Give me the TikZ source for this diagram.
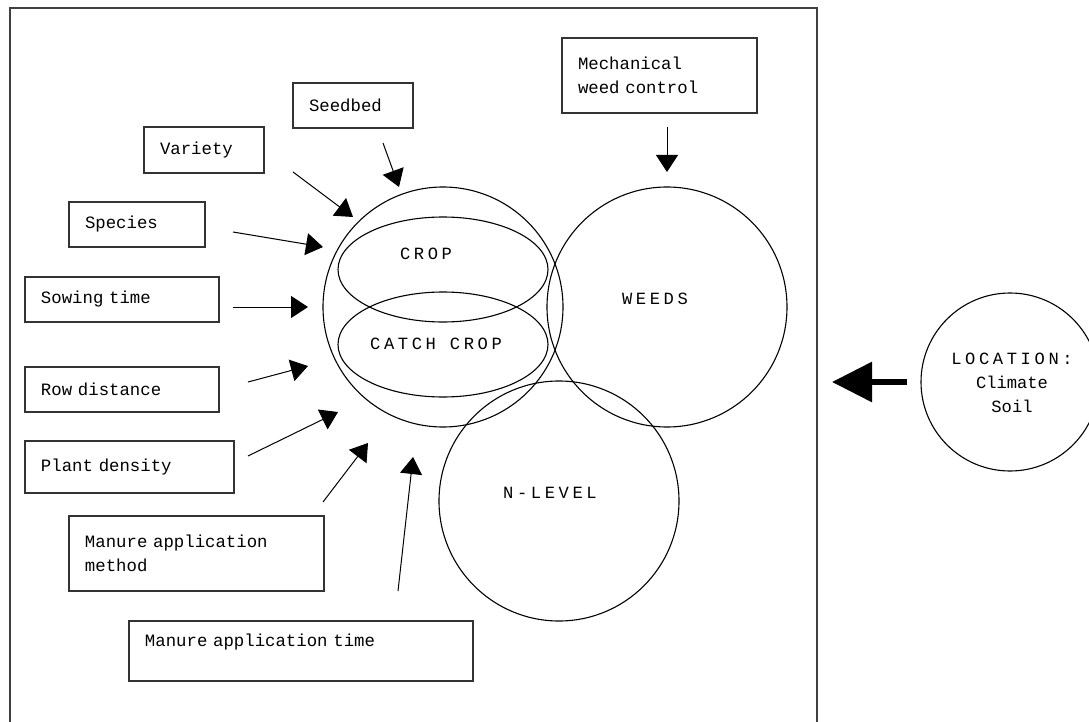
\documentclass[tikz,border=0pt]{standalone}
\usepackage{fontspec}
\setmainfont{Liberation Mono}
\newfontfamily\capsfont[LetterSpace=21]{Liberation Mono}
\usetikzlibrary{arrows.meta}
\begin{document}
\begin{tikzpicture}[x=1bp,y=-1bp,
  box/.style={draw=black!80, line width=1.1bp, rectangle, inner xsep=16bp, inner ysep=0pt, align=left, font=\fontsize{17.4}{24}\selectfont},
  ring/.style={draw=black, line width=1.1bp},
  thinarrow/.style={-{Triangle[length=17bp,width=22bp]}, line width=1bp},
  biglbl/.style={font=\capsfont\fontsize{17.2}{24}\selectfont, inner sep=0pt},
  smalllbl/.style={font=\fontsize{17.2}{24}\selectfont, inner sep=0pt, align=center},
]
\useasboundingbox (0,0) rectangle (1089,722);
% frame
\draw[line width=1.6bp, black!75] (10,722) -- (10,8) -- (817,8) -- (817,722);

% boxes
\node[box, text width=88bp,  minimum height=45bp] (seedbed) at (353,105.5) {Seedbed};
\node[box, text width=88bp,  minimum height=46bp] (variety) at (204,150) {Variety};
\node[box, text width=104bp, minimum height=45bp] (species) at (137,224.5) {Species};
\node[box, text width=162bp, minimum height=45bp] (sowing) at (122,299.5) {Sowing time};
\node[box, text width=162bp, minimum height=45bp] (row) at (122,389.5) {Row distance};
\node[box, text width=177bp, minimum height=52bp] (plant) at (129.5,467) {Plant density};
\node[box, text width=223bp, minimum height=75bp] (mmethod) at (196.5,553.5) {Manure application\\method};
\node[box, text width=312bp, minimum height=60bp] (mtime) at (301,651) {Manure application time\\[-2pt]\mbox{}};
\node[box, text width=163bp, minimum height=75bp] (mech) at (659.5,75.5) {Mechanical\\weed control};

% circles and ellipses
\draw[ring] (443,307) circle[radius=120];
\draw[ring] (443,269.5) ellipse[x radius=105, y radius=52.5];
\draw[ring] (443,344.5) ellipse[x radius=105, y radius=52.5];
\draw[ring] (667,307) circle[radius=120];
\draw[ring] (559,501) circle[radius=120];
\draw[ring] (1010,382) circle[radius=89];

% labels
\node[biglbl] (crop) at (426,254) {CROP};
\node[biglbl] (catch) at (436,344) {CATCH CROP};
\node[biglbl] (weeds) at (655,299) {WEEDS};
\node[biglbl] (nlevel) at (550,493) {N-LEVEL};
\node[smalllbl] (loc) at (1012,383) {{\capsfont LOCATION:}\\Climate\\Soil};

% arrow end points
\coordinate (a1s) at (383,143);  \coordinate (a1e) at (399,187);
\coordinate (a2s) at (293,172);  \coordinate (a2e) at (353,217);
\coordinate (a3s) at (233,232);  \coordinate (a3e) at (323,247);
\coordinate (a4s) at (233,307);  \coordinate (a4e) at (308,307);
\coordinate (a5s) at (248,382);  \coordinate (a5e) at (308,366);
\coordinate (a6s) at (248,456);  \coordinate (a6e) at (338,412);
\coordinate (a7s) at (323,502);  \coordinate (a7e) at (368,443);
\coordinate (a8s) at (398,591);  \coordinate (a8e) at (413,457);
\coordinate (a9s) at (667,127);  \coordinate (a9e) at (667,172);
\coordinate (bls) at (907,382);  \coordinate (ble) at (832,382);

\draw[thinarrow] (a1s) -- (a1e);
\draw[thinarrow] (a2s) -- (a2e);
\draw[thinarrow] (a3s) -- (a3e);
\draw[thinarrow] (a4s) -- (a4e);
\draw[thinarrow] (a5s) -- (a5e);
\draw[thinarrow] (a6s) -- (a6e);
\draw[thinarrow] (a7s) -- (a7e);
\draw[thinarrow] (a8s) -- (a8e);
\draw[thinarrow] (a9s) -- (a9e);
\draw[line width=6bp, -{Triangle[length=40bp,width=39bp]}] (bls) -- (ble);
\end{tikzpicture}
\end{document}
